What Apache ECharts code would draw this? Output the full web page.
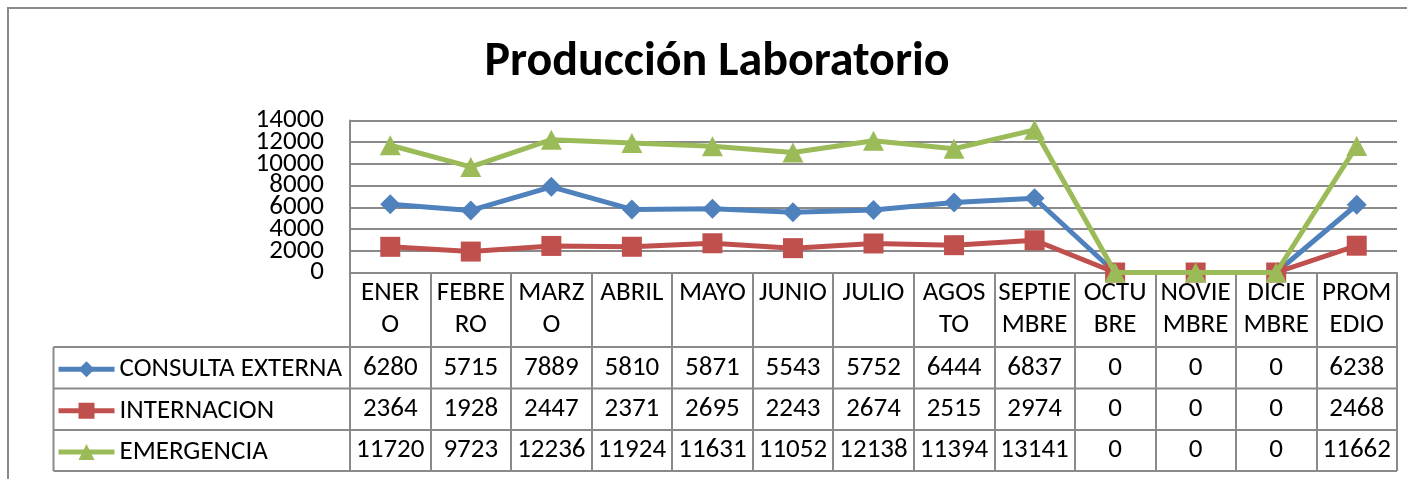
<!DOCTYPE html>
<html>
<head>
<meta charset="utf-8">
<title>Producción Laboratorio</title>
<script src="https://cdn.jsdelivr.net/npm/echarts@6/dist/echarts.min.js"></script>
<style>
  html, body { margin: 0; padding: 0; background: #ffffff; }
  #chart { width: 1407px; height: 479px; }
</style>
</head>
<body>
<div id="chart"></div>
<script>
// Monthly laboratory output by service
const categories = ['ENERO', 'FEBRERO', 'MARZO', 'ABRIL', 'MAYO', 'JUNIO', 'JULIO',
  'AGOSTO', 'SEPTIEMBRE', 'OCTUBRE', 'NOVIEMBRE', 'DICIEMBRE', 'PROMEDIO'];
// Header labels as they wrap inside the narrow table columns
const headerLabels = ['ENER\nO', 'FEBRE\nRO', 'MARZ\nO', 'ABRIL', 'MAYO', 'JUNIO', 'JULIO',
  'AGOS\nTO', 'SEPTIE\nMBRE', 'OCTU\nBRE', 'NOVIE\nMBRE', 'DICIE\nMBRE', 'PROM\nEDIO'];
const consultaExterna = [6280, 5715, 7889, 5810, 5871, 5543, 5752, 6444, 6837, 0, 0, 0, 6238];
const internacion = [2364, 1928, 2447, 2371, 2695, 2243, 2674, 2515, 2974, 0, 0, 0, 2468];
const emergencia = [11720, 9723, 12236, 11924, 11631, 11052, 12138, 11394, 13141, 0, 0, 0, 11662];
const yTicks = [0, 2000, 4000, 6000, 8000, 10000, 12000, 14000];

const seriesNames = ['CONSULTA EXTERNA', 'INTERNACION', 'EMERGENCIA'];
const seriesData = [consultaExterna, internacion, emergencia];
const colors = ['#4F81BD', '#C0504D', '#9BBB59'];
const symbols = ['diamond', 'rect', 'triangle'];

const FONT = 'Carlito, Lato, "Open Sans", sans-serif';
const FS = 27;
const GRID_COLOR = '#8a8a8a';
const gridLeft = 350, gridTop = 120.5, gridWidth = 1047, gridHeight = 152;
const axisY = gridTop + gridHeight;
const rowLines = [347, 388.5, 430, 471];
const tableLeft = 53.5;

const chart = echarts.init(document.getElementById('chart'), null, { renderer: 'canvas' });

const rowCenter = k => (rowLines[k] + rowLines[k + 1]) / 2;

// one extra bottom axis per table row, labels read from that row's series
const rowAxes = seriesData.map((arr, k) => ({
  type: 'category',
  data: categories,
  position: 'bottom',
  gridIndex: 0,
  offset: rowCenter(k) - axisY - 14,
  axisLine: { show: false },
  axisTick: { show: false },
  axisLabel: {
    interval: 0,
    margin: 0,
    fontFamily: FONT,
    fontSize: FS,
    lineHeight: 28,
    color: '#000',
    formatter: (v, i) => String(arr[i])
  }
}));

// one legend per table row so each key sits in its own row
const legends = seriesNames.map((name, k) => ({
  orient: 'vertical',
  left: 56,
  top: rowCenter(k) - 12,
  itemWidth: 56,
  itemHeight: 20,
  itemGap: 0,
  padding: 0,
  lineStyle: { width: 5 },
  textStyle: { fontFamily: FONT, fontSize: FS, lineHeight: 24, color: '#000' },
  data: [name]
}));

const staticGraphics = [
  // outer chart border
  { id: 'border', type: 'rect', shape: { x: 8, y: 8, width: 1420, height: 500 },
    style: { fill: null, stroke: '#8a8a8a', lineWidth: 2 }, silent: true },
  // data table horizontal rules
  ...rowLines.map((y, i) => ({
    id: 'rule' + i, type: 'line', shape: { x1: tableLeft, y1: y, x2: gridLeft + gridWidth, y2: y },
    style: { stroke: GRID_COLOR, lineWidth: 2 }, silent: true
  })),
  // legend column left edge
  { id: 'legendEdge', type: 'line', shape: { x1: tableLeft, y1: rowLines[0], x2: tableLeft, y2: rowLines[3] },
    style: { stroke: GRID_COLOR, lineWidth: 2 }, silent: true }
];

const option = {
  animation: false,
  backgroundColor: '#ffffff',
  color: colors,
  title: {
    text: 'Producción Laboratorio',
    left: 712,
    top: 34,
    textAlign: 'center',
    textStyle: { fontFamily: FONT, fontSize: 48, fontWeight: 'bold', color: '#000' }
  },
  legend: legends,
  grid: { left: gridLeft, top: gridTop, width: gridWidth, height: gridHeight, containLabel: false },
  xAxis: [{
    type: 'category',
    data: categories,
    boundaryGap: true,
    axisLine: { show: true, lineStyle: { color: GRID_COLOR, width: 2 } },
    axisTick: { show: true, interval: 0, length: rowLines[3] - axisY, lineStyle: { color: GRID_COLOR, width: 2 } },
    axisLabel: {
      interval: 0,
      margin: 5,
      fontFamily: FONT,
      fontSize: FS,
      lineHeight: 32,
      color: '#000',
      formatter: (v, i) => headerLabels[i]
    }
  }].concat(rowAxes),
  yAxis: {
    type: 'value',
    min: yTicks[0],
    max: yTicks[yTicks.length - 1],
    interval: yTicks[1] - yTicks[0],
    axisLine: { show: true, lineStyle: { color: GRID_COLOR, width: 2 } },
    axisTick: { show: false },
    splitLine: { show: true, lineStyle: { color: GRID_COLOR, width: 2 } },
    // tick labels are tightly packed, so they are placed as text below
    axisLabel: { show: false }
  },
  series: seriesData.map((arr, k) => ({
    name: seriesNames[k],
    type: 'line',
    data: arr,
    symbol: symbols[k],
    symbolSize: k === 2 ? [21, 20] : 20,
    showSymbol: true,
    lineStyle: { width: 5, color: colors[k] },
    itemStyle: { color: colors[k] },
    z: 3 + k
  })),
  graphic: staticGraphics
};

chart.setOption(option);

// value-axis tick labels, positioned through the axis scale
const yLabels = yTicks.map((v, i) => {
  const y = chart.convertToPixel({ yAxisIndex: 0 }, v);
  return {
    id: 'ytick' + i,
    type: 'text',
    x: gridLeft - 26,
    y: y,
    silent: true,
    style: {
      text: String(v),
      fontFamily: FONT,
      fontSize: FS,
      fill: '#000',
      align: 'right',
      verticalAlign: 'middle'
    }
  };
});
chart.setOption({ graphic: staticGraphics.concat(yLabels) });
</script>
</body>
</html>
